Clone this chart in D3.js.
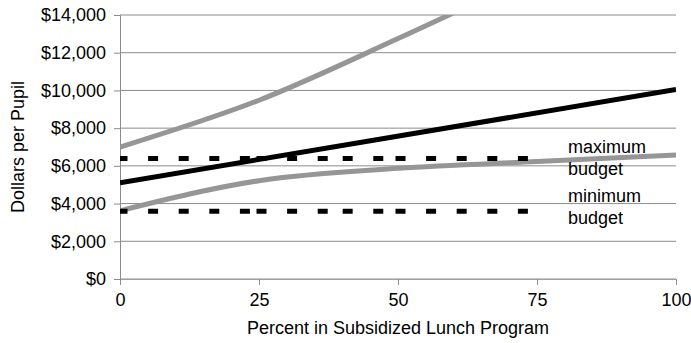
<!DOCTYPE html>
<meta charset="utf-8">
<script src="https://cdn.jsdelivr.net/npm/d3@7"></script>
<style>
  body { margin: 0; background: #fff; }
  text { font-family: "Liberation Sans", Arial, sans-serif; font-size: 18px; fill: #000; }
  .grid line { stroke: #8c8c8c; stroke-width: 1; }
</style>
<svg width="691" height="343"></svg>
<script>

// data
const yTicks = [0, 2000, 4000, 6000, 8000, 10000, 12000, 14000];
const xTicks = [0, 25, 50, 75, 100];

const upperX = [0, 25, 50, 75];
const upperY = [7000, 9480, 12750, 16200];

const middleX = [0, 100];
const middleY = [5100, 10050];

const lowerX = [0, 25, 50, 75, 100];
const lowerY = [3620, 5215, 5870, 6230, 6570];

const budgetX = [0, 25, 40.5, 50, 75];
const maxBudget = [6390, 6390, 6390, 6390, 6390];
const minBudget = [3590, 3590, 3590, 3590, 3590];

const budgetLabels = [["maximum", "budget"], ["minimum", "budget"]];

////////////////
// SETUP

const svg = d3.select("svg");
const margin = {top: 15, left: 120, right: 15, bottom: 64};
const width = 691 - margin.left - margin.right,
      height = 343 - margin.top - margin.bottom;

const x = d3.scaleLinear().domain([0, 100]).range([0, width]);
const y = d3.scaleLinear().domain([0, 14000]).range([height, 0]);

const chart = svg.append("g")
  .attr("transform", `translate(${margin.left}, ${margin.top})`);

chart.append("clipPath").attr("id", "plot")
  .append("rect").attr("width", width).attr("height", height);

// gridlines
chart.append("g").attr("class", "grid")
  .selectAll("line").data(yTicks).join("line")
  .attr("x1", 0).attr("x2", width)
  .attr("y1", d => y(d)).attr("y2", d => y(d));

// y axis
const yAxis = chart.append("g")
  .call(d3.axisLeft(y).tickValues(yTicks).tickSize(6).tickPadding(8)
    .tickFormat(d => "$" + d3.format(",")(d)));
yAxis.select(".domain").attr("stroke", "#8c8c8c");
yAxis.selectAll(".tick line").attr("stroke", "#8c8c8c");
yAxis.selectAll("text").style("font-size", "18px").attr("fill", "#000");

// x axis
const xAxis = chart.append("g")
  .attr("transform", `translate(0, ${height})`)
  .call(d3.axisBottom(x).tickValues(xTicks).tickSize(6).tickPadding(8));
xAxis.select(".domain").attr("stroke", "#a0a0a0");
xAxis.selectAll(".tick line").attr("stroke", "#8c8c8c");
xAxis.selectAll("text").style("font-size", "18px").attr("fill", "#000");

// titles
svg.append("text")
  .text("Percent in Subsidized Lunch Program")
  .attr("x", margin.left + width / 2)
  .attr("y", 334)
  .attr("text-anchor", "middle");

svg.append("text")
  .text("Dollars per Pupil")
  .attr("transform", `translate(24, ${margin.top + height / 2}) rotate(-90)`)
  .attr("text-anchor", "middle");

////////////////
// LINES

const plot = chart.append("g").attr("clip-path", "url(#plot)");

const smooth = d3.line()
  .x(d => x(d[0])).y(d => y(d[1]))
  .curve(d3.curveMonotoneX);

plot.append("path")
  .attr("d", smooth(d3.zip(upperX, upperY)))
  .attr("fill", "none").attr("stroke", "#969696").attr("stroke-width", 5);

plot.append("path")
  .attr("d", smooth(d3.zip(middleX, middleY)))
  .attr("fill", "none").attr("stroke", "#000").attr("stroke-width", 5);

plot.append("path")
  .attr("d", smooth(d3.zip(lowerX, lowerY)))
  .attr("fill", "none").attr("stroke", "#969696").attr("stroke-width", 5);

// dashed budgets: dash pattern restarts at every point
[maxBudget, minBudget].forEach(vals => {
  const pts = d3.zip(budgetX, vals);
  d3.pairs(pts).forEach(([a, b]) => {
    plot.append("line")
      .attr("x1", x(a[0])).attr("y1", y(a[1]))
      .attr("x2", x(b[0])).attr("y2", y(b[1]))
      .attr("stroke", "#000").attr("stroke-width", 5)
      .attr("stroke-linecap", "square")
      .attr("stroke-dasharray", "5 25.6");
  });
});

// labels
const labelY = [153, 201.5];
budgetLabels.forEach((lines, i) => {
  lines.forEach((t, j) => {
    svg.append("text")
      .text(t)
      .attr("x", 568)
      .attr("y", labelY[i] + j * 22);
  });
});

</script>
